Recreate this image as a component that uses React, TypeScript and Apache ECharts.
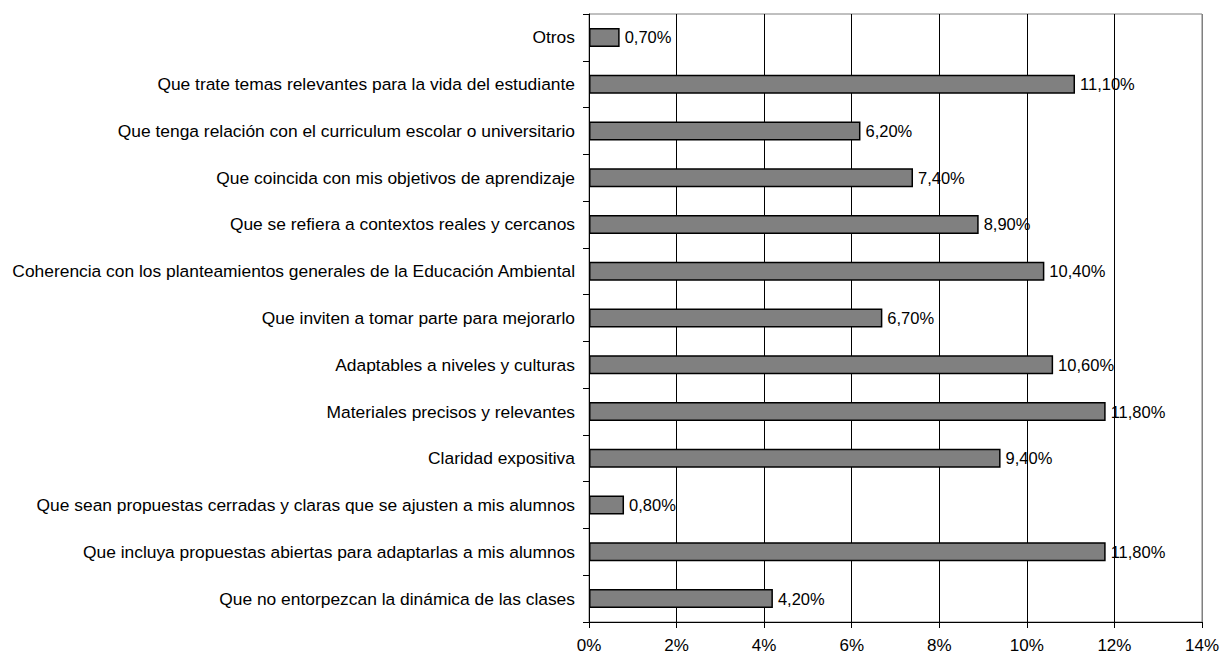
import React, { useEffect, useRef } from "react";
import * as echarts from "echarts";

const categories = [
  "Otros",
  "Que trate temas relevantes para la vida del estudiante",
  "Que tenga relación con el curriculum escolar o universitario",
  "Que coincida con mis objetivos de aprendizaje",
  "Que se refiera a contextos reales y cercanos",
  "Coherencia con los planteamientos generales de la Educación Ambiental",
  "Que inviten a tomar parte para mejorarlo",
  "Adaptables a niveles y culturas",
  "Materiales precisos y relevantes",
  "Claridad expositiva",
  "Que sean propuestas cerradas y claras que se ajusten a mis alumnos",
  "Que incluya propuestas abiertas para adaptarlas a mis alumnos",
  "Que no entorpezcan la dinámica de las clases",
];

const values = [0.7, 11.1, 6.2, 7.4, 8.9, 10.4, 6.7, 10.6, 11.8, 9.4, 0.8, 11.8, 4.2];

const FONT = "'Liberation Sans', Arial, sans-serif";

export default function App() {
  const ref = useRef<HTMLDivElement>(null);
  useEffect(() => {
    if (!ref.current) return;
    const chart = echarts.init(ref.current, undefined, { renderer: "svg" });
    chart.setOption({
      animation: false,
      backgroundColor: "#ffffff",
      grid: {
        left: 589,
        right: 16,
        top: 14,
        bottom: 32,
        show: true,
        borderColor: "#808080",
        borderWidth: 1,
      },
      xAxis: {
        type: "value",
        min: 0,
        max: 14,
        interval: 2,
        axisLine: { show: true, lineStyle: { color: "#000", width: 1 } },
        axisTick: { show: true, length: 6, lineStyle: { color: "#000" } },
        axisLabel: {
          formatter: (v: number) => `${v}%`,
          color: "#000",
          fontSize: 17,
          fontFamily: FONT,
          margin: 15,
        },
        splitLine: {
          show: true,
          lineStyle: {
            color: ["#000", "#000", "#000", "#000", "#000", "#000", "#000", "#808080"],
            width: 1,
          },
        },
      },
      yAxis: {
        type: "category",
        data: categories,
        inverse: true,
        axisLine: { show: true, lineStyle: { color: "#000", width: 1 } },
        axisTick: { show: true, length: 6, lineStyle: { color: "#000" } },
        axisLabel: {
          color: "#000",
          fontSize: 17.4,
          fontFamily: FONT,
          margin: 14,
        },
        splitLine: { show: false },
      },
      series: [
        {
          type: "bar",
          data: values,
          barWidth: 19,
          itemStyle: {
            color: "#808080",
            borderColor: "#000",
            borderWidth: 1.5,
          },
          label: {
            show: true,
            position: "right",
            distance: 5,
            color: "#000",
            fontSize: 16.5,
            fontFamily: FONT,
            formatter: (p: any) => p.value.toFixed(2).replace(".", ",") + "%",
          },
        },
      ],
    });
    return () => chart.dispose();
  }, []);
  return (
    <div
      ref={ref}
      style={{ position: "fixed", left: 0, top: 0, width: 1222, height: 654 }}
    />
  );
}
